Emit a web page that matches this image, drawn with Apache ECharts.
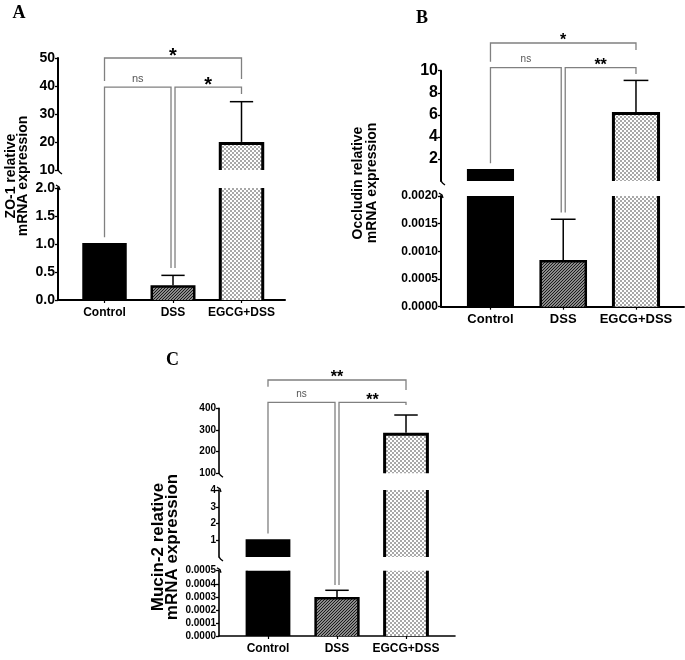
<!DOCTYPE html>
<html><head><meta charset="utf-8">
<script src="https://cdn.jsdelivr.net/npm/echarts@6/dist/echarts.min.js"></script>
<style>html,body{margin:0;padding:0;background:#fff}#c{width:685px;height:660px}</style>
</head><body><div id="c"></div>
<script>
// ---------- data ----------
const categories = ['Control', 'DSS', 'EGCG+DSS'];
const zo1Mean = [1.0, 0.24, 19.5];
const zo1Sd = [null, 0.20, 14.9];
const occludinMean = [1.0, 0.00082, 6.12];
const occludinSd = [null, 0.00076, 3.0];
const mucinMean = [1.0, 0.00029, 280];
const mucinSd = [null, 0.00006, 89];
const comparisons = [[0, 2], [0, 1], [1, 2]];
const zo1Sig = ['*', 'ns', '*'];
const occludinSig = ['*', 'ns', '**'];
const mucinSig = ['**', 'ns', '**'];
const zo1Title = ['ZO-1 relative', 'mRNA expression'];
const occludinTitle = ['Occludin relative', 'mRNA expression'];
const mucinTitle = ['Mucin-2 relative', 'mRNA expression'];
const panelLetters = ['A', 'B', 'C'];

// ---------- styling helpers ----------
const FONT = '"Liberation Sans", Arial, sans-serif';
const BAR_W = 0.62, CAP_W = 0.34;
function makePattern(kind) {
  const c = document.createElement('canvas');
  const g = c.getContext('2d');
  if (kind === 'hatch') {
    c.width = 3; c.height = 3;
    g.fillStyle = '#8a8a8a'; g.fillRect(0, 0, 3, 3);
    g.fillStyle = '#1a1a1a';
    g.fillRect(0, 2, 1, 1); g.fillRect(1, 1, 1, 1); g.fillRect(2, 0, 1, 1);
  } else {
    c.width = 4; c.height = 4;
    g.fillStyle = '#ffffff'; g.fillRect(0, 0, 4, 4);
    g.fillStyle = '#a8a8a8'; g.fillRect(0, 0, 2, 2); g.fillRect(2, 2, 2, 2);
  }
  return { image: c, repeat: 'repeat' };
}
const fills = ['#000000', makePattern('hatch'), makePattern('check')];
const borderW = [2, 2.5, 3];

const fmt1 = v => v.toFixed(1);
const fmt4 = v => v.toFixed(4);
const fmt0 = v => String(Math.round(v));

const panels = [
  { letter: panelLetters[0], title: zo1Title, mean: zo1Mean, sd: zo1Sd, sig: zo1Sig,
    left: 58, width: 227, xMin: -0.679, xMax: 2.635, catFont: 12, catMargin: 7, axisW: 2,
    segs: [
      { min: 0, max: 2, interval: 0.5, top: 188, height: 112, fmt: fmt1, font: 14 },
      { min: 10, max: 50, interval: 10, top: 58, height: 112, fmt: fmt0, font: 14 }
    ],
    brackets: [
      { level: [1, 50], ends: [[1, 41.8], [1, 42.5]], dx: [0, 0] },
      { level: [1, 39.6], ends: [[0, 1.12], [0, 0.57]], dx: [0, -2] },
      { level: [1, 39.6], ends: [[0, 0.57], [1, 37.1]], dx: [2, 0] }
    ],
    starFont: 20, nsFont: 11,
    titlePos: [17.5, 176], titleFont: 14, titleLH: 12, letterPos: [19, 13] },
  { letter: panelLetters[1], title: occludinTitle, mean: occludinMean, sd: occludinSd, sig: occludinSig,
    left: 441, width: 243, xMin: -0.68, xMax: 2.66, catFont: 13, catMargin: 6, axisW: 2,
    segs: [
      { min: 0, max: 0.002, interval: 0.0005, top: 196, height: 110.7, fmt: fmt4, font: 12 },
      { min: 0, max: 10, interval: 2, top: 70.7, height: 110.3, fmt: fmt0, font: 16, showMin: false }
    ],
    brackets: [
      { level: [1, 12.51], ends: [[1, 10.82], [1, 11.88]], dx: [0, 0] },
      { level: [1, 10.27], ends: [[1, 1.6], [0, 0.0017]], dx: [0, -2] },
      { level: [1, 10.27], ends: [[0, 0.0017], [1, 9.7]], dx: [2, 0] }
    ],
    starFont: 16, nsFont: 10,
    titlePos: [365, 183], titleFont: 14, titleLH: 14, letterPos: [422, 18] },
  { letter: panelLetters[2], title: mucinTitle, mean: mucinMean, sd: mucinSd, sig: mucinSig,
    left: 219, width: 236, xMin: -0.71, xMax: 2.71, catFont: 12, catMargin: 7, axisW: 1.6,
    segs: [
      { min: 0, max: 0.0005, interval: 0.0001, top: 570.7, height: 65.3, fmt: fmt4, font: 10 },
      { min: 0, max: 4, interval: 1, top: 490, height: 67, fmt: fmt0, font: 10, showMin: false },
      { min: 100, max: 400, interval: 100, top: 408.3, height: 65, fmt: fmt0, font: 10 }
    ],
    brackets: [
      { level: [2, 530.6], ends: [[2, 500], [2, 484.5]], dx: [0, 0] },
      { level: [2, 427.7], ends: [[1, 1.41], [0, 0.00039]], dx: [0, -2] },
      { level: [2, 427.7], ends: [[0, 0.00039], [2, 415]], dx: [2, 0] }
    ],
    starFont: 16, nsFont: 10,
    titlePos: [165, 547], titleFont: 17, titleLH: 14, letterPos: [172.5, 360.5] }
];

function makeRender(seg) {
  return function (params, api) {
    const i = api.value(0), v = api.value(1), top = api.value(2);
    const children = [];
    const cx = api.coord([i, seg.min])[0];
    const half = api.size([BAR_W, 0])[0] / 2;
    const bw = borderW[i];
    if (v > seg.min) {
      const base = Math.max(0, seg.min);
      const yb = api.coord([i, base])[1];
      const yt = api.coord([i, Math.min(v, seg.max)])[1];
      const xl = cx - half, xr = cx + half;
      if (yb - yt >= 1) {
        children.push({ type: 'rect', shape: { x: xl, y: yt, width: xr - xl, height: yb - yt },
          style: { fill: fills[i] } });
        if (v <= seg.max) {
          children.push({ type: 'polyline', shape: { points: [[xl, yb], [xl, yt], [xr, yt], [xr, yb]] },
            style: { stroke: '#000', lineWidth: bw, fill: 'none', lineJoin: 'miter' } });
        } else {
          children.push({ type: 'line', shape: { x1: xl, y1: yb, x2: xl, y2: yt }, style: { stroke: '#000', lineWidth: bw } });
          children.push({ type: 'line', shape: { x1: xr, y1: yb, x2: xr, y2: yt }, style: { stroke: '#000', lineWidth: bw } });
        }
      }
    }
    if (isFinite(top) && v >= seg.min && top <= seg.max) {
      const yv = api.coord([i, v])[1];
      const y1 = api.coord([i, top])[1];
      if (yv - y1 >= 1) {
        const ch = api.size([CAP_W, 0])[0] / 2;
        children.push({ type: 'line', shape: { x1: cx, y1: yv - bw / 2, x2: cx, y2: y1 }, style: { stroke: '#000', lineWidth: 1.5 } });
        children.push({ type: 'line', shape: { x1: cx - ch, y1: y1, x2: cx + ch, y2: y1 }, style: { stroke: '#000', lineWidth: 1.5 } });
      }
    }
    return { type: 'group', children };
  };
}

const grids = [], xAxes = [], yAxes = [], series = [];
panels.forEach(p => {
  p.gridIdx = [];
  p.segs.forEach((s, k) => {
    const gi = grids.length;
    p.gridIdx.push(gi);
    grids.push({ left: p.left, top: s.top, width: p.width, height: s.height });
    xAxes.push({
      type: 'value', gridIndex: gi, min: p.xMin, max: p.xMax, show: k === 0,
      splitLine: { show: false },
      axisLine: { show: true, onZero: false, lineStyle: { color: '#000', width: p.axisW } },
      axisTick: { show: true, customValues: [0, 1, 2], length: 3, lineStyle: { color: '#000', width: 1.2 } },
      axisLabel: { customValues: [0, 1, 2], formatter: v => categories[Math.round(v)],
        fontFamily: FONT, fontWeight: 'bold', fontSize: p.catFont, color: '#000', margin: p.catMargin }
    });
    yAxes.push({
      type: 'value', gridIndex: gi, min: s.min, max: s.max, interval: s.interval,
      splitLine: { show: false },
      axisLine: { show: true, onZero: false, lineStyle: { color: '#000', width: p.axisW } },
      axisTick: { show: true, length: 3, lineStyle: { color: '#000', width: 1.3 } },
      axisLabel: { formatter: s.fmt, fontFamily: FONT, fontWeight: 'bold', fontSize: s.font, color: '#000',
        margin: 3, showMinLabel: s.showMin !== false, showMaxLabel: true }
    });
    series.push({
      type: 'custom', xAxisIndex: gi, yAxisIndex: gi, silent: true,
      data: p.mean.map((m, i) => [i, m, p.sd[i] == null ? null : m + p.sd[i]]),
      renderItem: makeRender(s)
    });
  });
});

const chart = echarts.init(document.getElementById('c'), null, { renderer: 'canvas' });
chart.setOption({ animation: false, backgroundColor: '#fff', grid: grids, xAxis: xAxes, yAxis: yAxes, series });

// ---------- annotations (positions derived from the chart's own scales) ----------
const gfx = [];
panels.forEach(p => {
  const toPx = (segIdx, x, y) => chart.convertToPixel({ gridIndex: p.gridIdx[segIdx] }, [x, y]);
  p.brackets.forEach((b, bi) => {
    const [from, to] = comparisons[bi];
    const a = toPx(b.level[0], from, b.level[1]);
    const x1 = a[0] + b.dx[0];
    const x2 = toPx(b.level[0], to, b.level[1])[0] + b.dx[1];
    const yL = a[1];
    const y1 = toPx(b.ends[0][0], from, b.ends[0][1])[1];
    const y2 = toPx(b.ends[1][0], to, b.ends[1][1])[1];
    gfx.push({ type: 'polyline', silent: true, shape: { points: [[x1, y1], [x1, yL], [x2, yL], [x2, y2]] },
      style: { stroke: '#808080', lineWidth: 1.3, fill: 'none' } });
    const label = p.sig[bi];
    const isNs = label === 'ns';
    gfx.push({ type: 'text', silent: true, x: (x1 + x2) / 2, y: yL - (isNs ? 8 : 2),
      style: { text: label, fontFamily: FONT, fontSize: isNs ? p.nsFont : p.starFont,
        fontWeight: isNs ? 'normal' : 'bold', fill: isNs ? '#555' : '#000', align: 'center', verticalAlign: 'middle' } });
  });
  // axis break marks
  p.segs.forEach((s, k) => {
    const ax = toPx(k, p.xMin, s.min)[0];
    if (k > 0) {
      const y = toPx(k, p.xMin, s.min)[1];
      gfx.push({ type: 'polyline', silent: true, shape: { points: [[ax, y], [ax + 1.5, y + 2], [ax + 4, y + 4]] },
        style: { stroke: '#000', lineWidth: 1.3, fill: 'none' } });
    }
    if (k < p.segs.length - 1) {
      const y = toPx(k, p.xMin, s.max)[1];
      gfx.push({ type: 'polyline', silent: true, shape: { points: [[ax - 2, y - 3], [ax + 1, y - 1], [ax + 2, y + 2]] },
        style: { stroke: '#000', lineWidth: 1.3, fill: 'none' } });
    }
  });
  gfx.push({ type: 'text', silent: true, x: p.titlePos[0], y: p.titlePos[1], rotation: Math.PI / 2,
    style: { text: p.title.join('\n'), fontFamily: FONT, fontWeight: 'bold', fontSize: p.titleFont,
      lineHeight: p.titleLH, fill: '#000', align: 'center', verticalAlign: 'middle' } });
  gfx.push({ type: 'text', silent: true, x: p.letterPos[0], y: p.letterPos[1],
    style: { text: p.letter, fontFamily: '"Liberation Serif", "Times New Roman", serif', fontWeight: 'bold',
      fontSize: 18, fill: '#000', align: 'center', verticalAlign: 'middle' } });
});
chart.setOption({ graphic: gfx });
</script>
</body></html>
